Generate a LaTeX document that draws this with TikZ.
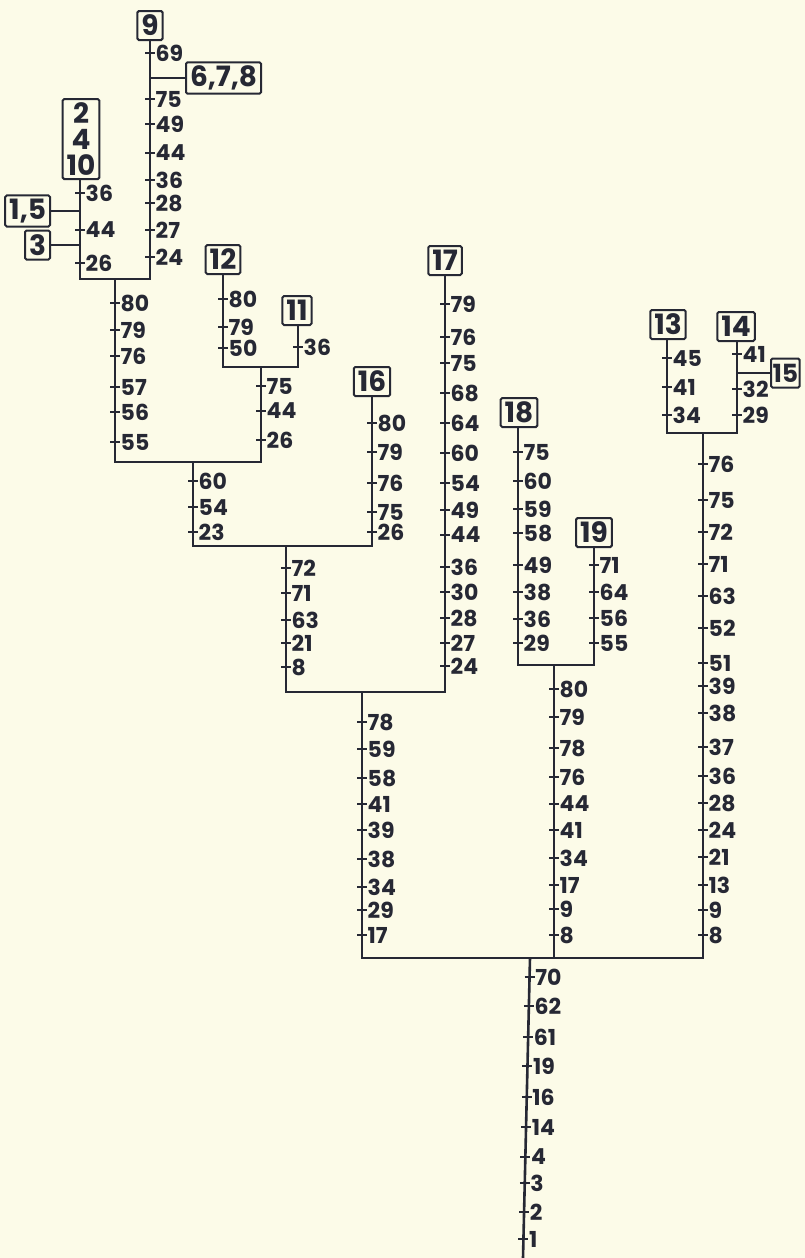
\documentclass[tikz,border=0pt]{standalone}
\usepackage{fontspec}
\setmainfont{Poppins}[Numbers=Proportional]
\definecolor{bgc}{RGB}{252,251,232}
\definecolor{ink}{RGB}{38,40,52}
\newcommand\tickline[2]{%
  \foreach \yy/\ll in {#2}{%
    \draw[tk] (#1-5,\yy) -- (#1+5,\yy);
    \node[lab] (L#1-\yy) at (#1+5.5,\yy) {\ll};
  }}
\begin{document}
\begin{tikzpicture}[x=1pt,y=-1pt,
  ln/.style={draw=ink,line width=2.6pt},
  tk/.style={draw=ink,line width=1.9pt},
  lab/.style={anchor=west,inner sep=0pt,text=ink,font=\fontsize{22}{22}\selectfont\bfseries},
  box/.style={draw=ink,line width=2pt,rounded corners=1.5pt,inner xsep=4pt,inner ysep=3.5pt,
    minimum height=29pt,text=ink,font=\fontsize{28}{26}\selectfont\bfseries,align=center}]
\fill[bgc] (0,0) rectangle (805,1258);
\useasboundingbox (0,0) rectangle (805,1258);

% boxes
\node[box,anchor=south] (b9) at (150,41) {9};
\node[box,anchor=west] (b678) at (185,78) {6,7,8};
\node[box,anchor=south] (b2410) at (81,180) {2\\4\\10};
\node[box,anchor=east] (b15) at (51,211) {1,5};
\node[box,anchor=east] (b3) at (51,245) {3};
\node[box,anchor=south] (b12) at (223,275) {12};
\node[box,anchor=south] (b11) at (297,326) {11};
\node[box,anchor=south] (b16) at (372,397) {16};
\node[box,anchor=south] (b17) at (445,276) {17};
\node[box,anchor=south] (b18) at (519,428) {18};
\node[box,anchor=south] (b19) at (594,548) {19};
\node[box,anchor=south] (b13) at (668,340) {13};
\node[box,anchor=south] (b14) at (736,342) {14};
\node[box,anchor=west,inner xsep=1.5pt,font=\fontsize{25}{26}\selectfont\bfseries] (b15b) at (770,373) {15};

% junction coordinates
\coordinate (a1) at (80,279);  \coordinate (a2) at (150,279); \coordinate (a3) at (115,279);
\coordinate (c1) at (223,367); \coordinate (c2) at (298,367); \coordinate (c3) at (261,367);
\coordinate (d1) at (115,462); \coordinate (d2) at (261,462); \coordinate (d3) at (193,462);
\coordinate (e1) at (193,546); \coordinate (e2) at (372,546); \coordinate (e3) at (286,546);
\coordinate (f1) at (286,692); \coordinate (f2) at (445,692); \coordinate (f3) at (362,692);
\coordinate (g1) at (518,665); \coordinate (g2) at (594,665); \coordinate (g3) at (554,665);
\coordinate (k1) at (667,433); \coordinate (k2) at (737,433); \coordinate (k3) at (703,433);
\coordinate (m1) at (362,958); \coordinate (m2) at (703,958); \coordinate (m3) at (554,958);
\coordinate (r0) at (530,958); \coordinate (r1) at (523,1258);
\coordinate (br678) at (150,78);
\coordinate (br15) at (80,211);
\coordinate (br3) at (80,245);
\coordinate (br15b) at (737,373);

% lines
\draw[ln] (b9.south) -- (a2) -- (a1) -- (80,180);
\draw[ln] (br678) -- (b678.west);
\draw[ln] (br15) -- (b15.east);
\draw[ln] (br3) -- (b3.east);
\draw[ln] (a3) -- (d1) -- (d2) -- (c3);
\draw[ln] (b12.south) -- (c1) -- (c2) -- (298,326);
\draw[ln] (d3) -- (e1) -- (e2) -- (b16.south);
\draw[ln] (e3) -- (f1) -- (f2) -- (445,276);
\draw[ln] (518,428) -- (g1) -- (g2) -- (b19.south);
\draw[ln] (g3) -- (m3);
\draw[ln] (667,340) -- (k1) -- (k2) -- (737,342);
\draw[ln] (br15b) -- (b15b.west);
\draw[ln] (k3) -- (m2) -- (m1) -- (f3);
\draw[ln] (r0) -- (r1);

% ticks and labels
\tickline{150}{53/69,99/75,124/49,153/44,180/36,203/28,230/27,257/24}
\tickline{80}{193/36,230/44,263/26}
\tickline{115}{303/80,330/79,356/76,387/57,412/56,442/55}
\tickline{223}{299/80,327/79,348/50}
\tickline{298}{347/36}
\tickline{261}{386/75,411/44,440/26}
\tickline{193}{481/60,507/54,532/23}
\tickline{372}{423/80,452/79,483/76,512/75,532/26}
\tickline{286}{568/72,593/71,620/63,643/21,667/8}
\tickline{445}{304/79,337/76,363/75,393/68,423/64,453/60,483/54,510/49,535/44,567/36,592/30,618/28,643/27,666/24}
\tickline{362}{722/78,749/59,778/58,804/41,830/39,859/38,887/34,910/29,935/17}
\tickline{518}{452/75,481/60,509/59,533/58,565/49,592/38,619/36,643/29}
\tickline{594}{565/71,592/64,618/56,643/55}
\tickline{554}{689/80,717/79,748/78,777/76,804/44,830/41,858/34,885/17,909/9,935/8}
\tickline{667}{358/45,387/41,415/34}
\tickline{737}{354/41,389/32,415/29}
\tickline{703}{464/76,500/75,532/72,564/71,596/63,628/52,663/51,686/39,713/38,747/37,776/36,803/28,830/24,857/21,885/13,910/9,935/8}
\foreach \yy/\ll in {977/70,1006/62,1037/61,1066/19,1097/16,1127/14,1157/4,1183/3,1212/2,1239/1}{
  \pgfmathsetmacro\xx{530-7*(\yy-958)/300}
  \draw[tk] (\xx-5,\yy) -- (\xx+5,\yy);
  \node[lab] (R-\yy) at (\xx+5.5,\yy) {\ll};
}
\end{tikzpicture}
\end{document}
